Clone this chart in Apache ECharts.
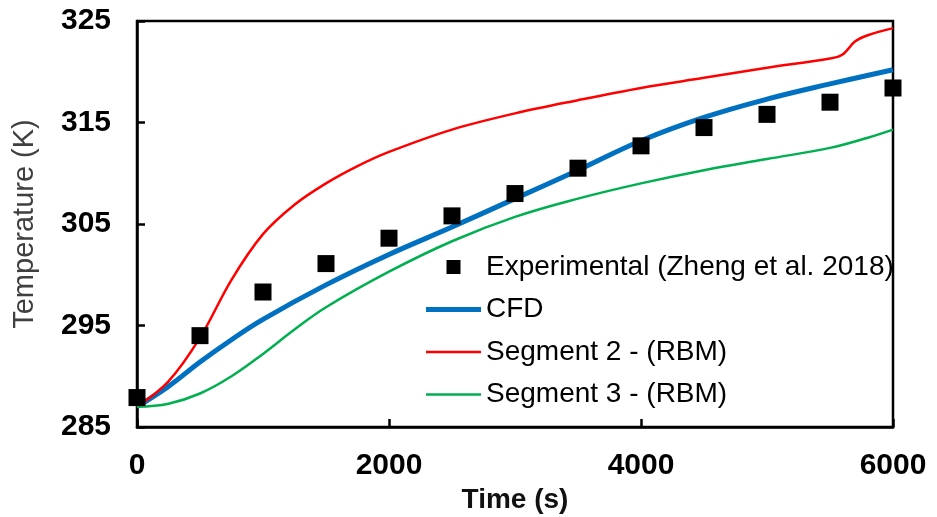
<!DOCTYPE html>
<html>
<head>
<meta charset="utf-8">
<script src="https://cdn.jsdelivr.net/npm/echarts@6/dist/echarts.min.js"></script>
<style>
  html, body { margin: 0; padding: 0; background: #fff; }
  #chart { width: 937px; height: 517px; }
</style>
</head>
<body>
<div id="chart"></div>
<script>
// experimental points
const expTime = [0, 500, 1000, 1500, 2000, 2500, 3000, 3500, 4000, 4500, 5000, 5500, 6000]
const expTemp = [287.9, 294.0, 298.3, 301.1, 303.6, 305.8, 308.0, 310.5, 312.7, 314.5, 315.8, 317.0, 318.4]

// CFD
const cfdTime = [0, 250, 500, 750, 1000, 1500, 2000, 2500, 3000, 3500, 4000, 4500, 5000, 5500, 6000]
const cfdTemp = [287.0, 289.0, 291.4, 293.6, 295.6, 299.0, 302.0, 304.7, 307.5, 310.3, 313.2, 315.5, 317.3, 318.8, 320.2]

// Segment 2 - (RBM)
const seg2Time = [0, 250, 500, 750, 1000, 1250, 1500, 1750, 2000, 2500, 3000, 3500, 4000, 4500, 5000, 5500, 5600, 5700, 5800, 6000]
const seg2Temp = [287.0, 289.5, 293.8, 299.5, 304.0, 306.9, 309.0, 310.7, 312.1, 314.3, 315.9, 317.2, 318.4, 319.4, 320.4, 321.3, 321.7, 323.0, 323.6, 324.3]

// Segment 3 - (RBM)
const seg3Time = [0, 250, 500, 750, 1000, 1250, 1500, 2000, 2500, 3000, 3500, 4000, 4500, 5000, 5500, 5800, 6000]
const seg3Temp = [287.0, 287.3, 288.3, 290.0, 292.2, 294.6, 296.8, 300.3, 303.3, 305.7, 307.5, 309.0, 310.3, 311.4, 312.5, 313.5, 314.3]

const names = ['Experimental (Zheng et al. 2018)', 'CFD', 'Segment 2 - (RBM)', 'Segment 3 - (RBM)']

const pairs = (xs, ys) => xs.map((x, i) => [x, ys[i]])

const chart = echarts.init(document.getElementById('chart'))

const axisFont = {
  fontFamily: 'Liberation Sans, Arial, sans-serif',
  fontSize: 30,
  fontWeight: 'bold',
  color: '#000',
}

chart.setOption({
  animation: false,
  grid: {
    left: 137,
    right: 44,
    top: 21,
    bottom: 90,
    outerBoundsMode: 'none',
    containLabel: false,
    show: true,
    borderColor: '#000',
    borderWidth: 2.5,
  },
  legend: {
    orient: 'vertical',
    left: 421,
    top: 248,
    itemWidth: 55,
    itemHeight: 14,
    itemGap: 14.5,
    textStyle: {
      fontFamily: 'Liberation Sans Narrow, Arial Narrow, Liberation Sans, sans-serif',
      fontSize: 28,
      color: '#000',
    },
    data: [
      { name: names[0], icon: 'path://M0,0h10v10h-10z' },
      { name: names[1], icon: 'path://M0,0h55v5h-55z' },
      { name: names[2], icon: 'path://M0,0h55v2.5h-55z' },
      { name: names[3], icon: 'path://M0,0h55v2.5h-55z' },
    ],
  },
  xAxis: {
    type: 'value',
    min: 0,
    max: 6000,
    interval: 2000,
    name: 'Time (s)',
    nameLocation: 'middle',
    nameGap: 58,
    nameTextStyle: { fontFamily: 'Liberation Sans, Arial, sans-serif', fontSize: 28, fontWeight: 'bold', color: '#111' },
    axisLine: { lineStyle: { color: '#000', width: 2.5 } },
    axisTick: { inside: true, length: 8, lineStyle: { color: '#000', width: 2.5 } },
    axisLabel: { ...axisFont, margin: 24, formatter: v => String(v) },
    splitLine: { show: false },
  },
  yAxis: {
    type: 'value',
    min: 285,
    max: 325,
    interval: 10,
    name: 'Temperature (K)',
    nameLocation: 'middle',
    nameGap: 98,
    nameTextStyle: { fontFamily: 'Liberation Sans, Arial, sans-serif', fontSize: 29, color: '#404040' },
    axisLine: { lineStyle: { color: '#000', width: 2.5 } },
    axisTick: { inside: true, length: 8, lineStyle: { color: '#000', width: 2.5 } },
    axisLabel: { ...axisFont, margin: 26 },
    splitLine: { show: false },
  },
  series: [
    {
      name: names[0],
      type: 'scatter',
      symbol: 'rect',
      symbolSize: 17,
      itemStyle: { color: '#000', opacity: 1 },
      data: pairs(expTime, expTemp),
      z: 5,
    },
    {
      name: names[1],
      type: 'line',
      smooth: 0.4,
      symbol: 'none',
      lineStyle: { color: '#0070C0', width: 5 },
      itemStyle: { color: '#0070C0' },
      data: pairs(cfdTime, cfdTemp),
    },
    {
      name: names[2],
      type: 'line',
      smooth: 0.35,
      symbol: 'none',
      lineStyle: { color: '#FF0000', width: 2.5 },
      itemStyle: { color: '#FF0000' },
      data: pairs(seg2Time, seg2Temp),
    },
    {
      name: names[3],
      type: 'line',
      smooth: 0.4,
      symbol: 'none',
      lineStyle: { color: '#00B050', width: 2.5 },
      itemStyle: { color: '#00B050' },
      data: pairs(seg3Time, seg3Temp),
    },
  ],
})
</script>
</body>
</html>
